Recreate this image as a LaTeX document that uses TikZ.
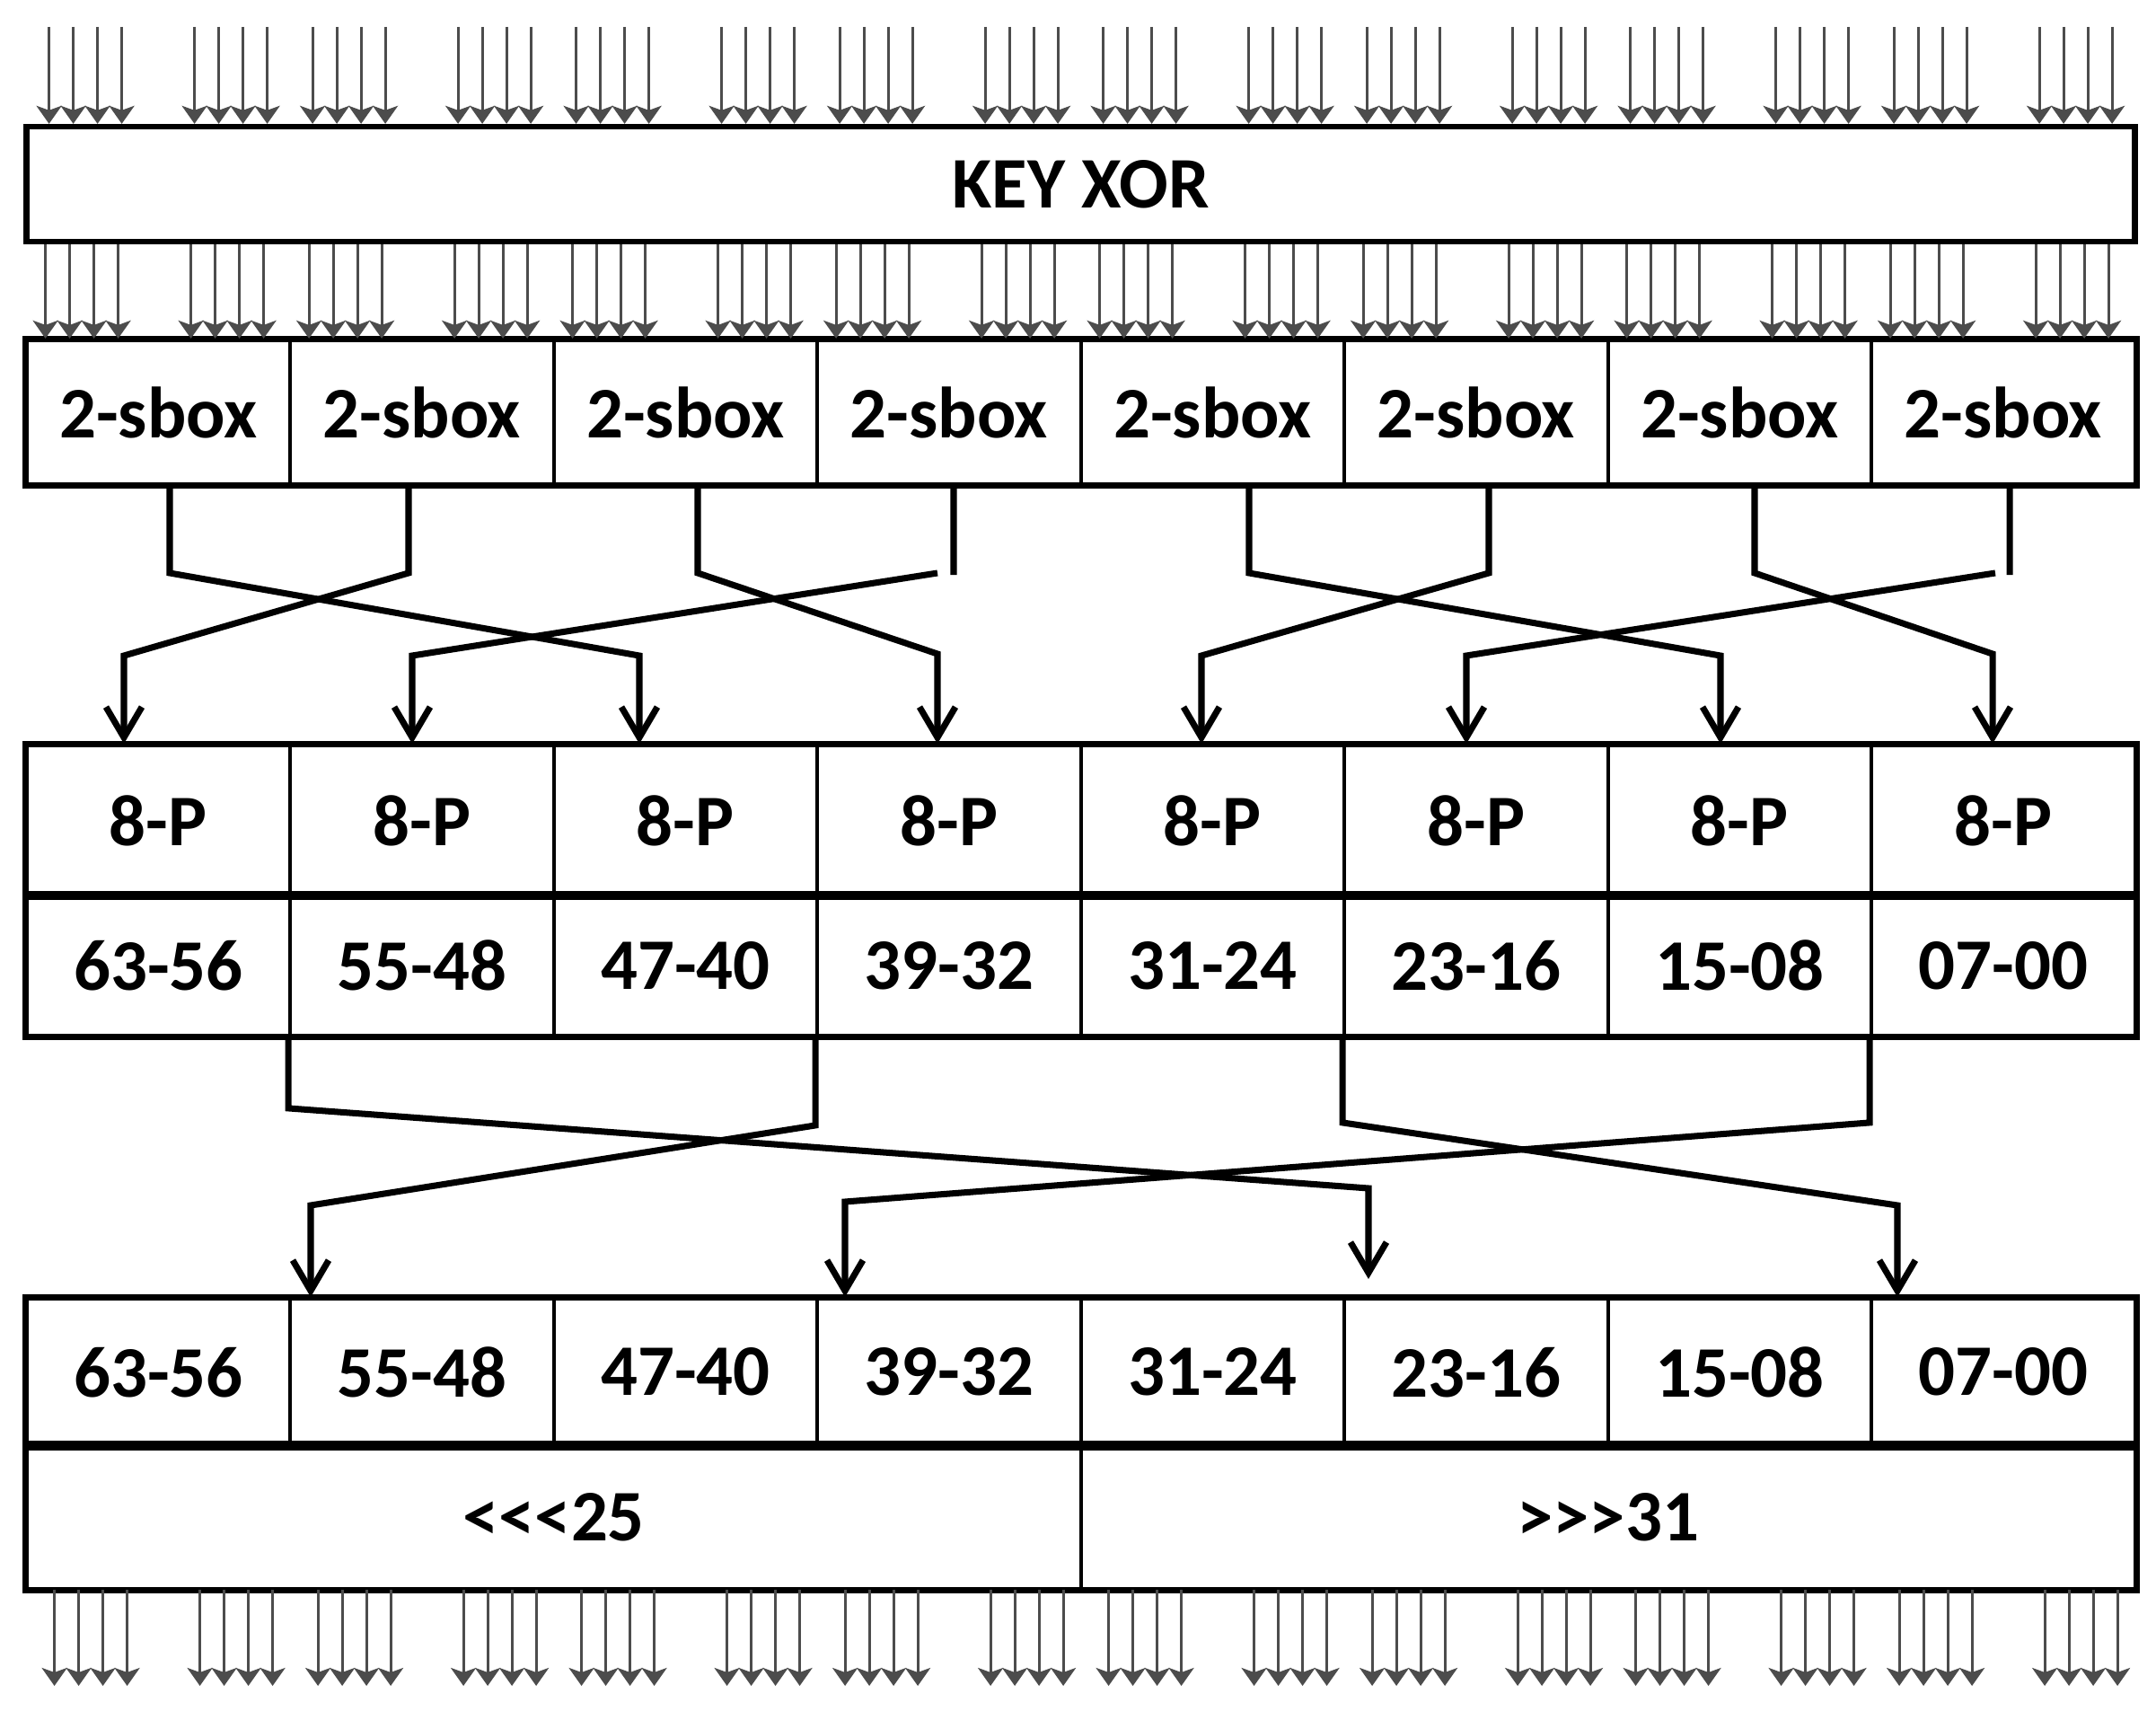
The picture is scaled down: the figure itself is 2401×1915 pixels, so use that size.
\documentclass[tikz,border=0pt]{standalone}
\usepackage{fontspec}
\setmainfont{Carlito}
\usetikzlibrary{arrows.meta}

\begin{document}
\begin{tikzpicture}[x=0.1mm, y=-0.1mm,
				   every node/.style={font=\fontsize{23}{27}\selectfont\bfseries, inner sep=0pt},
				   cell/.style={draw=black, line width=1.1pt, minimum width=29.35mm},
				   frame/.style={draw=black, line width=1.8pt},
				   bit/.style={black!70, line width=0.9pt, -{Stealth[length=2mm, width=2.8mm, inset=0.5mm]}},
				   wire/.style={line width=2pt, -{Straight Barb[length=3.4mm, width=4mm]}}]
\useasboundingbox (0,0) rectangle (2401,1915);

% rows of boxes
\node[frame, minimum width=234.8mm, minimum height=12.8mm] (key) at (1203.6,205) {KEY XOR};
\foreach \i in {0,...,7}
	\node[cell, minimum height=16.04mm] (s\i) at ({176.35+293.5*\i},459) {2-sbox};
\foreach \i in {0,...,7}
	\node[cell, minimum height=16.7mm] (p\i) at ({176.35+293.5*\i},913.5) {8-P};
\foreach \lab [count=\i from 0] in {63-56,55-48,47-40,39-32,31-24,23-16,15-08,07-00}{
	\node[cell, minimum height=15.6mm] (b\i) at ({176.35+293.5*\i},1075) {\lab};
	\node[cell, minimum height=16.35mm] (o\i) at ({176.35+293.5*\i},1527.75) {\lab};
}
\node[cell, minimum width=117.4mm, minimum height=15.9mm] (rl) at (616.6,1689) {<{}<{}<25};
\node[cell, minimum width=117.4mm, minimum height=15.9mm] (rr) at (1790.6,1689) {>{}>{}>31};

\draw[frame] (s0.north west) rectangle (s7.south east);
\draw[frame] (p0.north west) rectangle (p7.south east);
\draw[frame] (b0.north west) rectangle (b7.south east);
\draw[frame] (o0.north west) rectangle (o7.south east);
\draw[frame] (rl.north west) rectangle (rr.south east);

% 64 bit lines
\foreach \c in {0,...,7}
	\foreach \d in {25,52,79,106,187,214,241,268}{
		\pgfmathsetmacro\x{29.6+293.5*\c+\d}
		\draw[bit] (\x,30) -- (\x,0 |- key.north);
		\draw[bit] ({\x-4},0 |- key.south) -- ({\x-4},0 |- s0.north);
		\draw[bit] ({\x+6},0 |- rl.south) -- ({\x+6},1877);
	}

% sbox -> 8-P
\draw[wire] (189,0 |- s0.south) -- (189,638) -- (712,730) -- (712,0 |- p2.north);
\draw[wire] (455,0 |- s1.south) -- (455,638) -- (138,730) -- (138,0 |- p0.north);
\draw[wire] (777,0 |- s2.south) -- (777,638) -- (1044,728) -- (1044,0 |- p3.north);
\draw[wire] (1062,0 |- s3.south) -- (1062,640) (1044,638) -- (459,730) -- (459,0 |- p1.north);
\draw[wire] (1391,0 |- s4.south) -- (1391,638) -- (1916,730) -- (1916,0 |- p6.north);
\draw[wire] (1658,0 |- s5.south) -- (1658,638) -- (1338,730) -- (1338,0 |- p4.north);
\draw[wire] (1954,0 |- s6.south) -- (1954,638) -- (2219,728) -- (2219,0 |- p7.north);
\draw[wire] (2238,0 |- s7.south) -- (2238,640) (2222,638) -- (1633,730) -- (1633,0 |- p5.north);

% 8-P -> rotation
\draw[wire] (b1.south west) -- ++(0,79) -- (1524,1323) -- (1524,1424);
\draw[wire] (b3.south west) -- ++(0,98) -- (346,1342) -- (346,0 |- o1.north);
\draw[wire] (b5.south west) -- ++(0,95) -- (2113,1342) -- (2113,0 |- o7.north);
\draw[wire] (b7.south west) -- ++(0,95) -- (941,1338) -- (941,0 |- o3.north);
\end{tikzpicture}
\end{document}
